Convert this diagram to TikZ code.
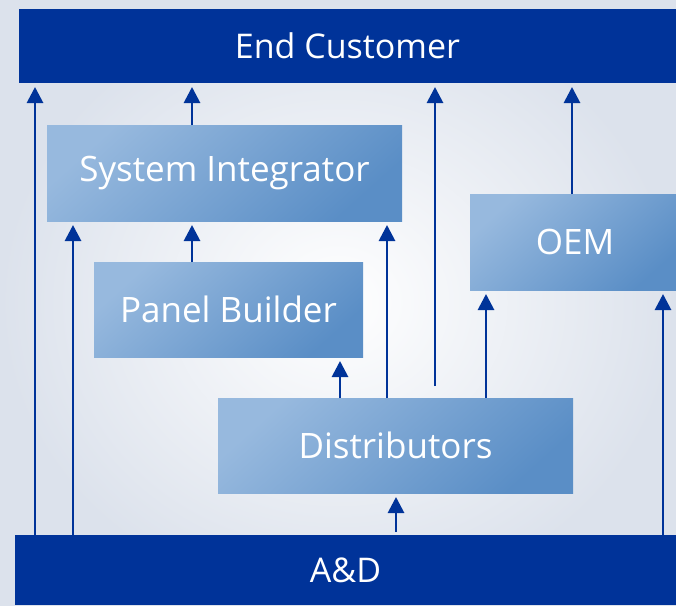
\documentclass[tikz,border=0pt]{standalone}
\usepackage{fontspec}
\setmainfont{Open Sans}
\usetikzlibrary{arrows.meta}
\definecolor{dkblue}{HTML}{003399}
\definecolor{boxlt}{HTML}{97B9DE}
\definecolor{boxdk}{HTML}{5A8EC6}
\definecolor{bgedge}{HTML}{DCE2EC}
\tikzset{
  bar/.style={fill=dkblue, text=white, inner sep=0pt, outer sep=0pt, anchor=north west, font=\fontsize{34}{38}\selectfont},
  pbox/.style={shading=axis, left color=boxlt, right color=boxdk, shading angle=42, text=white, inner sep=0pt, outer sep=0pt, anchor=north west, font=\fontsize{35}{38}\selectfont},
  arr/.style={draw=dkblue, line width=2.8pt, -{Triangle[width=16pt,length=16pt]}, shorten >=4pt}
}
\begin{document}
\begin{tikzpicture}[x=1pt,y=-1pt]
\useasboundingbox (0,0) rectangle (676,605);
\shade[inner color=white, outer color=bgedge] (0,0) rectangle (676,605);
\node[bar, minimum width=657pt, minimum height=74pt] (ec) at (19,9) {End Customer};
\node[bar, minimum width=661pt, minimum height=70pt] (ad) at (15,535) {A\&D};
\node[pbox, minimum width=355pt, minimum height=96pt] (si) at (47,125) {System Integrator};
\node[pbox, minimum width=269pt, minimum height=95pt] (pb) at (94,262) {Panel Builder};
\node[pbox, minimum width=355pt, minimum height=95pt] (di) at (218,398) {Distributors};
\node[pbox, minimum width=210pt, minimum height=96pt] (oem) at (470,194) {OEM};
\foreach \n/\x in {a/35,b/73,c/192,d/340,e/387,f/435,g/486,h/572,i/663,j/396}{
  \coordinate (x\n) at (\x,0);
}
\coordinate (fe) at (435,386);
\draw[arr] (ad.north -| xa) -- (ec.south -| xa);
\draw[arr] (ad.north -| xb) -- (si.south -| xb);
\draw[arr] (si.north -| xc) -- (ec.south -| xc);
\draw[arr] (pb.north -| xc) -- (si.south -| xc);
\draw[arr] (di.north -| xd) -- (pb.south -| xd);
\draw[arr] (di.north -| xe) -- (si.south -| xe);
\draw[arr] (fe) -- (ec.south -| xf);
\draw[arr] (di.north -| xg) -- (oem.south -| xg);
\draw[arr] (oem.north -| xh) -- (ec.south -| xh);
\draw[arr] (ad.north -| xi) -- (oem.south -| xi);
\draw[arr, shorten <=3pt] (ad.north -| xj) -- (di.south -| xj);
\end{tikzpicture}
\end{document}
